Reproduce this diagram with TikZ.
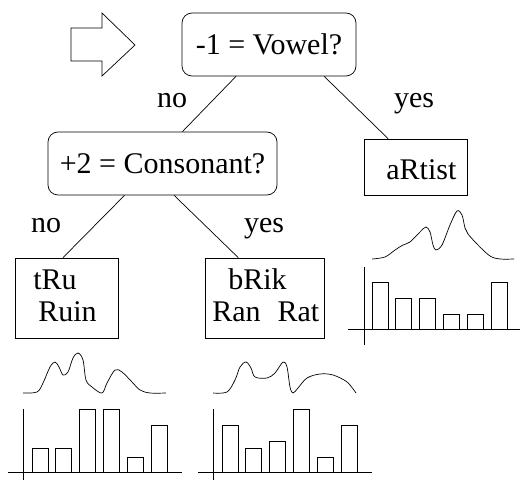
\documentclass[tikz,border=0pt]{standalone}
\usepackage{fontspec}
\setmainfont{Liberation Serif}
\usetikzlibrary{positioning}

\begin{document}
\begin{tikzpicture}[x=1pt, y=-1pt, line width=0.7pt,
  every node/.style={font=\fontsize{30}{35}\selectfont, inner sep=0pt},
  test/.style={draw, rounded corners=10pt, minimum height=63pt},
  leaf/.style={draw, minimum width=103pt, minimum height=80pt},
  word/.style={anchor=base west},
  answer/.style={anchor=base}]

\useasboundingbox (0,0) rectangle (520,481);

% start arrow
\draw (71,28) -- (102,28) -- (102,13) -- (135,45) -- (102,76) -- (102,61) -- (71,61) -- cycle;

\node (vowel)[test, minimum width=174pt] at (269,44.5) {-1 = Vowel?};
\node (cons)[test, minimum width=229pt] at (162.5,163.5) {+2 = Consonant?};
\node (artist)[leaf, minimum height=56pt] at (415.5,167) {};
\node (tru)[leaf] at (66.5,298) {};
\node (brik)[leaf, minimum width=119pt] at (264.5,298) {};

\node (artistw)[word] at (386,180) {aRtist};
\node (truw)[word] at (33,290) {tRu};
\node (ruinw)[word] at (38,322) {Ruin};
\node (brikw)[word] at (228,290) {bRik};
\node (ranw)[word] at (212,322) {Ran\hspace{17pt}Rat};

\node (no1)[answer] at (172,108) {no};
\node (yes1)[answer] at (414,108) {yes};
\node (no2)[answer] at (46,233) {no};
\node (yes2)[answer] at (264,233) {yes};

\draw (vowel.224.5) -- (cons.58.2);
\draw (vowel.330.6) -- (artist.134.5);
\draw (cons.220.8) -- (tru.95);
\draw (cons.290) -- (brik.123.5);

% curves
\draw plot[smooth, tension=0.55] coordinates {(23,393) (37,392) (43,383) (50,367) (55,362) (59,367)
  (63,375) (68,372) (73,358) (78,353) (83,360) (86,380) (92,387) (102,393) (107,383) (115,370)
  (122,372) (132,382) (140,390) (150,393) (166,393)};
\draw plot[smooth, tension=0.55] coordinates {(213,393) (227,392) (235,380) (240,367) (246,362)
  (251,368) (255,377) (267,378) (275,373) (283,362) (287,367) (290,387) (293,393) (298,388)
  (307,378) (320,374) (333,375) (347,382) (356,393)};
\draw plot[smooth, tension=0.55] coordinates {(372,259) (385,257) (395,250) (403,245) (410,242)
  (420,232) (426,227) (430,232) (433,245) (436,250) (442,245) (450,225) (457,211) (462,215)
  (465,228) (468,234) (478,245) (490,256) (500,259) (514,259)};

% histograms
\begin{scope}[shift={(23,472)}]
\draw (-15,0) -- (159,0);
\draw (0,8) -- (0,-63);
\foreach \h [count=\i from 0] in {24,24,63,63,15,47}
  \draw ({9+23.8*\i},0) rectangle ++(16,-\h);
\end{scope}

\begin{scope}[shift={(213,472)}]
\draw (-15,0) -- (159,0);
\draw (0,8) -- (0,-63);
\foreach \h [count=\i from 0] in {47,24,31,63,15,47}
  \draw ({9+23.8*\i},0) rectangle ++(16,-\h);
\end{scope}

\begin{scope}[shift={(364,329)}]
\draw (-16,0) -- (156,0);
\draw (0,16) -- (0,-62);
\foreach \h [count=\i from 0] in {47,31,31,15,15,47}
  \draw ({8+23.8*\i},0) rectangle ++(16,-\h);
\end{scope}
\end{tikzpicture}
\end{document}
